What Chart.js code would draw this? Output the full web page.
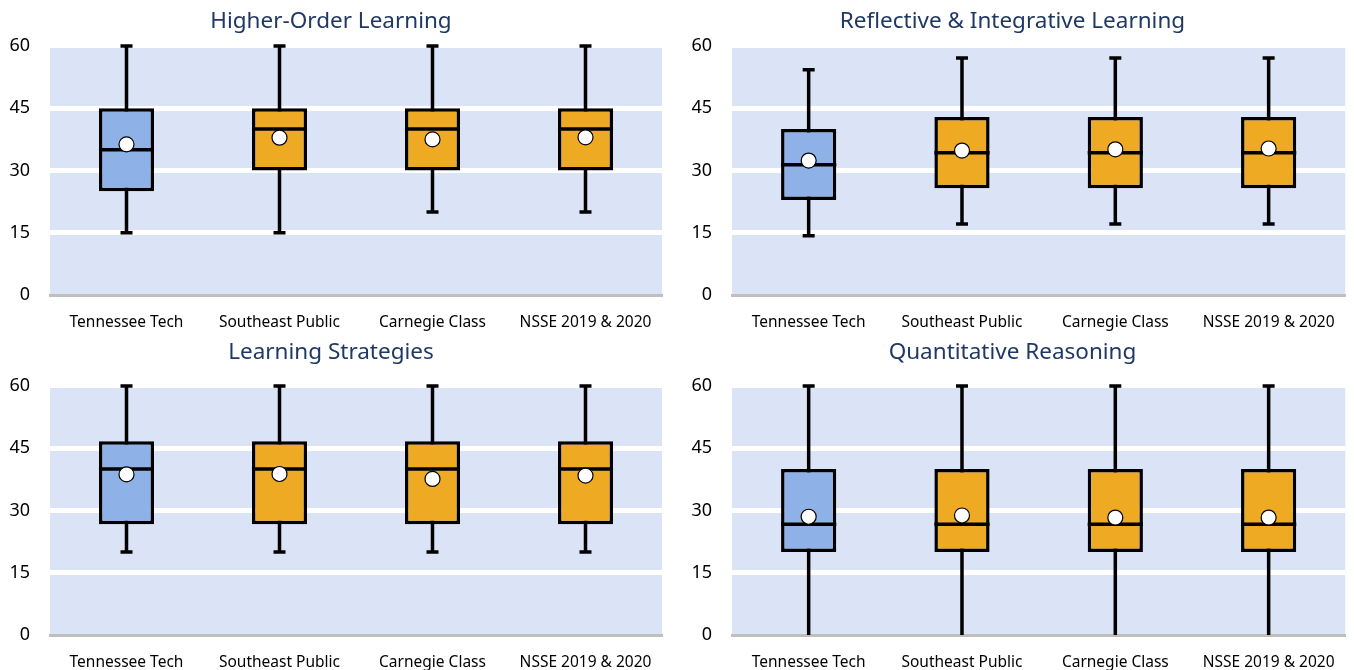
<!DOCTYPE html>
<html>
<head>
<meta charset="utf-8">
<script src="https://cdn.jsdelivr.net/npm/chart.js@4/dist/chart.umd.min.js"></script>
<style>
    html, body { margin: 0; padding: 0; background: #fff; }
    .panel { position: absolute; width: 677px; height: 335px; }
</style>
</head>
<body>
<div class="panel" style="left:0;top:0"><canvas id="c0"></canvas></div>
<div class="panel" style="left:677px;top:0"><canvas id="c1"></canvas></div>
<div class="panel" style="left:0;top:335px"><canvas id="c2"></canvas></div>
<div class="panel" style="left:677px;top:335px"><canvas id="c3"></canvas></div>
<script>
const categories = ['Tennessee Tech', 'Southeast Public', 'Carnegie Class', 'NSSE 2019 & 2020'];
const titles = ['Higher-Order Learning', 'Reflective & Integrative Learning', 'Learning Strategies', 'Quantitative Reasoning'];
const yTicks = [0, 15, 30, 45, 60];

// one row per panel, one value per category
const mins    = [[15, 15, 20, 20], [14.3, 17.1, 17.1, 17.1], [20, 20, 20, 20], [0, 0, 0, 0]];
const q1s     = [[25, 30, 30, 30], [22.9, 25.7, 25.7, 25.7], [26.7, 26.7, 26.7, 26.7], [20, 20, 20, 20]];
const medians = [[35, 40, 40, 40], [31.4, 34.3, 34.3, 34.3], [40, 40, 40, 40], [26.7, 26.7, 26.7, 26.7]];
const q3s     = [[45, 45, 45, 45], [40, 42.9, 42.9, 42.9], [46.7, 46.7, 46.7, 46.7], [40, 40, 40, 40]];
const maxs    = [[60, 60, 60, 60], [54.3, 57.1, 57.1, 57.1], [60, 60, 60, 60], [60, 60, 60, 60]];
const means   = [[36.3, 37.9, 37.5, 38.0], [32.4, 34.8, 35.1, 35.3], [38.7, 38.8, 37.6, 38.4], [28.5, 28.8, 28.3, 28.3]];

const boxColours = ['#8eb1e8', '#eeaa23', '#eeaa23', '#eeaa23'];
const plotBg = '#dae4f6';

const boxPlotPlugin = {
    id: 'boxPlot',
    beforeDraw(chart) {
        const a = chart.chartArea;
        const ctx = chart.ctx;
        ctx.save();
        ctx.fillStyle = plotBg;
        ctx.fillRect(a.left, a.top + 2, a.right - a.left, a.bottom - a.top - 2);
        ctx.restore();
    },
    beforeDatasetsDraw(chart) {
        const p = chart.config.options.panel;
        const y = chart.scales.y;
        const ctx = chart.ctx;
        ctx.save();
        ctx.strokeStyle = '#000';
        ctx.lineWidth = 3.5;
        chart.getDatasetMeta(0).data.forEach((el, i) => {
            const yMin = y.getPixelForValue(mins[p][i]);
            const yMax = y.getPixelForValue(maxs[p][i]);
            ctx.beginPath();
            ctx.moveTo(el.x, yMin);
            ctx.lineTo(el.x, yMax);
            ctx.moveTo(el.x - 6, yMax);
            ctx.lineTo(el.x + 6, yMax);
            if (mins[p][i] > y.min) {
                ctx.moveTo(el.x - 6, yMin);
                ctx.lineTo(el.x + 6, yMin);
            }
            ctx.stroke();
        });
        ctx.restore();
    },
    afterDatasetDraw(chart, args) {
        if (args.index !== 0) return;
        const p = chart.config.options.panel;
        const y = chart.scales.y;
        const ctx = chart.ctx;
        ctx.save();
        ctx.strokeStyle = '#000';
        ctx.lineWidth = 3.5;
        chart.getDatasetMeta(0).data.forEach((el, i) => {
            const ym = y.getPixelForValue(medians[p][i]);
            ctx.beginPath();
            ctx.moveTo(el.x - el.width / 2, ym);
            ctx.lineTo(el.x + el.width / 2, ym);
            ctx.stroke();
        });
        ctx.restore();
    }
};

const fontFamily = '"Noto Sans", "Open Sans", sans-serif';

function makePanel(p) {
    const isRight = p % 2 === 1;
    const isBottom = p >= 2;
    const ctx = document.getElementById('c' + p).getContext('2d');
    new Chart(ctx, {
        type: 'bar',
        data: {
            labels: categories,
            datasets: [{
                label: 'Box',
                data: q1s[p].map((v, i) => [v, q3s[p][i]]),
                backgroundColor: boxColours,
                borderColor: '#000',
                borderWidth: 3.5,
                borderSkipped: false,
                categoryPercentage: 1,
                barPercentage: 0.36,
                order: 2
            }, {
                type: 'line',
                label: 'Mean',
                data: means[p],
                showLine: false,
                pointRadius: 7.5,
                pointHoverRadius: 7.5,
                pointBackgroundColor: '#fff',
                pointBorderColor: '#000',
                pointBorderWidth: 1.2,
                order: 1
            }]
        },
        options: {
            panel: p,
            animation: false,
            responsive: true,
            maintainAspectRatio: false,
            layout: {
                padding: { left: 0, right: isRight ? 6 : 15, top: 0, bottom: 0 }
            },
            plugins: {
                legend: { display: false },
                tooltip: { enabled: false },
                title: {
                    display: true,
                    text: titles[p],
                    color: '#1f3864',
                    font: { family: fontFamily, size: 22.5, weight: 'normal', lineHeight: 1.2 },
                    padding: isBottom ? { top: 4, bottom: 20 } : { top: 8, bottom: 11 }
                }
            },
            scales: {
                x: {
                    grid: { display: false },
                    border: { color: '#bfbfbf', width: 3 },
                    ticks: {
                        color: '#000',
                        padding: 10,
                        maxRotation: 0,
                        font: { family: fontFamily, size: 15.5 }
                    },
                    afterFit(scale) { scale.height = isBottom ? 35 : 40; }
                },
                y: {
                    min: 0,
                    max: 60,
                    afterBuildTicks(scale) { scale.ticks = yTicks.map(v => ({ value: v })); },
                    border: { display: false },
                    grid: {
                        drawTicks: false,
                        lineWidth: 5,
                        color: c => (c.tick && (c.tick.value === 0 || c.tick.value === 60)) ? 'rgba(0,0,0,0)' : '#ffffff'
                    },
                    ticks: {
                        color: '#000',
                        padding: 20,
                        font: { family: fontFamily, size: 18 }
                    },
                    afterFit(scale) { scale.width = isRight ? 55 : 50; }
                }
            }
        },
        plugins: [boxPlotPlugin]
    });
}

document.addEventListener('DOMContentLoaded', function() {
    for (let p = 0; p < 4; p++) makePanel(p);
});
</script>
</body>
</html>
